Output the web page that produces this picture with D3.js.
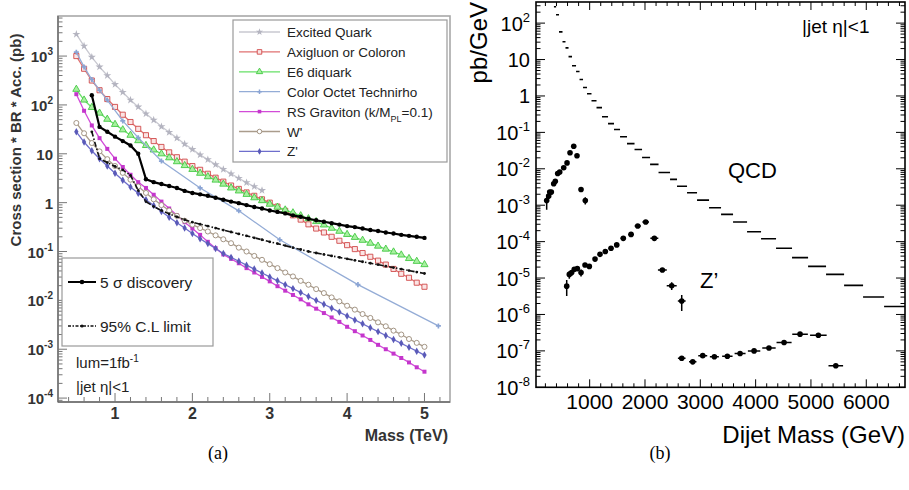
<!DOCTYPE html>
<html>
<head>
<meta charset="utf-8">
<script src="https://cdn.jsdelivr.net/npm/d3@7"></script>
<style>
body { margin: 0; background: #fff; }
svg { display: block; }
</style>
</head>
<body>
<div id="chart"></div>
<script>
// ---------- panel (a): cross section * BR * acceptance vs mass ----------
const massTeV = [0.5, 0.6, 0.7, 0.8, 0.9, 1.0, 1.1, 1.2, 1.3, 1.4, 1.5, 1.6, 1.7, 1.8, 1.9, 2.0,
    2.1, 2.2, 2.3, 2.4, 2.5, 2.6, 2.7, 2.8, 2.9, 3.0, 3.1, 3.2, 3.3, 3.4, 3.5, 3.6, 3.7, 3.8,
    3.9, 4.0, 4.1, 4.2, 4.3, 4.4, 4.5, 4.6, 4.7, 4.8, 4.9, 5.0];
const massQstarTeV = [0.5, 0.6, 0.7, 0.8, 0.9, 1.0, 1.1, 1.2, 1.3, 1.4, 1.5, 1.6, 1.7, 1.8, 1.9,
    2.0, 2.1, 2.2, 2.3, 2.4, 2.5, 2.6, 2.7, 2.8, 2.9];
const massLimitTeV = [0.7, 0.8, 0.9, 1.0, 1.1, 1.2, 1.3, 1.4, 1.5, 1.6, 1.7, 1.8, 1.9, 2.0, 2.1,
    2.2, 2.3, 2.4, 2.5, 2.6, 2.7, 2.8, 2.9, 3.0, 3.1, 3.2, 3.3, 3.4, 3.5, 3.6, 3.7, 3.8, 3.9,
    4.0, 4.1, 4.2, 4.3, 4.4, 4.5, 4.6, 4.7, 4.8, 4.9, 5.0];
const massRhoTeV = [0.5, 0.6, 0.7, 0.8, 0.9, 1.1, 1.3, 1.6, 2.1, 2.6, 3.13, 4.14, 5.18];

const xsecQstar = [2800, 1600, 950, 600, 400, 263, 182, 126, 91, 66, 49, 36, 27.5, 21, 15.8,
    12.3, 9.5, 7.6, 6.0, 4.8, 3.9, 3.16, 2.57, 2.14, 1.78];
const xsecAxigluon = [1000, 550, 316, 200, 132, 91, 63, 44.7, 32.4, 24.0, 18.2, 13.8, 10.7, 8.5,
    6.9, 5.6, 4.7, 3.9, 3.24, 2.69, 2.24, 1.91, 1.62, 1.38, 1.17, 1.0, 0.83, 0.68, 0.55, 0.45,
    0.36, 0.295, 0.245, 0.20, 0.166, 0.135, 0.112, 0.093, 0.078, 0.065, 0.054, 0.044, 0.035,
    0.029, 0.023, 0.019];
const xsecDiquark = [209, 126, 89, 68, 51, 40, 31, 24, 18.6, 14.8, 12.0, 10.0, 8.3, 6.9, 5.75,
    4.8, 4.0, 3.4, 2.9, 2.4, 2.0, 1.74, 1.48, 1.26, 1.1, 0.93, 0.81, 0.71, 0.62, 0.54, 0.47,
    0.41, 0.35, 0.30, 0.26, 0.224, 0.195, 0.17, 0.148, 0.129, 0.112, 0.098, 0.085, 0.072,
    0.063, 0.054];
const xsecTechnirho = [1200, 600, 331, 200, 126, 47, 21.4, 7.1, 2.0, 0.68, 0.174, 0.021, 0.003];
const xsecGraviton = [166, 75.9, 38, 20.9, 12.6, 7.94, 5.37, 3.72, 2.63, 2.0, 1.45, 1.05, 0.759,
    0.55, 0.398, 0.295, 0.219, 0.158, 0.117, 0.0871, 0.0708, 0.0575, 0.0457, 0.0372, 0.0302,
    0.0245, 0.0195, 0.0158, 0.0129, 0.0105, 0.0083, 0.00676, 0.0055, 0.00447, 0.00363,
    0.00288, 0.00234, 0.00191, 0.00155, 0.00123, 0.001, 0.000813, 0.000661, 0.000537,
    0.000427, 0.000347];
const xsecWprime = [42.7, 26.3, 16.6, 11.2, 7.76, 5.62, 4.07, 2.95, 2.14, 1.58, 1.17, 0.891,
    0.692, 0.537, 0.427, 0.355, 0.302, 0.257, 0.214, 0.178, 0.148, 0.12, 0.1, 0.0813, 0.0676,
    0.055, 0.0457, 0.0372, 0.0309, 0.0251, 0.0209, 0.017, 0.0141, 0.0115, 0.00955, 0.00776,
    0.00646, 0.00525, 0.00437, 0.00355, 0.00295, 0.0024, 0.002, 0.00162, 0.00135, 0.00112];
const xsecZprime = [28.2, 17.4, 11.5, 7.94, 5.62, 3.98, 2.88, 2.09, 1.55, 1.15, 0.871, 0.661,
    0.501, 0.389, 0.302, 0.234, 0.182, 0.145, 0.115, 0.0912, 0.0759, 0.0631, 0.0525, 0.0437,
    0.0363, 0.0302, 0.0251, 0.0209, 0.0174, 0.0145, 0.012, 0.01, 0.00832, 0.00692, 0.00575,
    0.00479, 0.00398, 0.00331, 0.00275, 0.00229, 0.00191, 0.00158, 0.00132, 0.0011,
    0.000912, 0.000759];
const xsecDiscovery = [158, 35.5, 28.2, 22.4, 18.2, 14.8, 10.0, 3.02, 2.63, 2.4, 2.19, 2.0,
    1.74, 1.58, 1.48, 1.38, 1.26, 1.15, 1.05, 0.977, 0.891, 0.813, 0.759, 0.692, 0.646, 0.603,
    0.55, 0.513, 0.468, 0.437, 0.407, 0.38, 0.355, 0.331, 0.316, 0.295, 0.275, 0.263, 0.245,
    0.234, 0.219, 0.209, 0.2, 0.19];
const xsecLimit95 = [28.2, 7.94, 6.61, 5.5, 4.68, 3.63, 1.78, 1.05, 0.832, 0.692, 0.589, 0.513,
    0.447, 0.398, 0.363, 0.331, 0.302, 0.275, 0.251, 0.229, 0.209, 0.191, 0.174, 0.158, 0.145,
    0.132, 0.120, 0.110, 0.100, 0.0933, 0.0871, 0.0813, 0.0759, 0.0708, 0.0661, 0.0617,
    0.0575, 0.0537, 0.0501, 0.0468, 0.0437, 0.0407, 0.038, 0.0355];

const signalNames = ["Excited Quark", "Axigluon or Coloron", "E6 diquark",
    "Color Octet Technirho", "RS Graviton (k/M", "W'", "Z'"];
const xTicksA = [1, 2, 3, 4, 5];

// ---------- panel (b): dijet mass spectrum ----------
const qcdEdgesGeV = [356, 392, 446, 509, 563, 618, 681, 754, 817, 880, 952, 1033, 1124, 1223,
    1332, 1440, 1549, 1675, 1811, 1947, 2092, 2245, 2453, 2579, 2760, 2941, 3158, 3375, 3592,
    3845, 4098, 4369, 4658, 4948, 5273, 5599, 5942, 6322, 6702];
const qcdXsec = [282, 170, 57.5, 30.9, 20.9, 12.0, 6.76, 4.68, 2.82, 1.70, 1.15, 0.741, 0.479,
    0.269, 0.174, 0.120, 0.0759, 0.049, 0.0339, 0.0204, 0.0132, 0.00794, 0.00513, 0.00331,
    0.00219, 0.00138, 0.000851, 0.000562, 0.000347, 0.000186, 0.00012, 6.61e-5, 3.63e-5,
    2.09e-5, 1.26e-5, 6.31e-6, 3.02e-6, 1.66e-6];

const zpMassGeV = [223, 260, 278, 307, 350, 379, 422, 459, 531, 591, 645, 712, 771, 844, 921,
    585, 632, 675, 722, 777, 844, 916, 994, 1097, 1187, 1283, 1386, 1489, 1608, 1748, 1869,
    2013, 2169, 2314, 2483, 2664,
    2664, 2863, 3044, 3254, 3489, 3719, 3972, 4241, 4514, 4803, 5134, 5449];
const zpXsec = [1.35e-3, 1.78e-3, 2.29e-3, 2.29e-3, 3.89e-3, 4.57e-3, 7.41e-3, 8.13e-3,
    1.07e-2, 1.45e-2, 2.75e-2, 4.17e-2, 2.29e-2, 2.69e-3, 1.35e-3,
    6.0e-6, 1.26e-5, 1.41e-5, 1.74e-5, 1.82e-5, 1.41e-5, 2.29e-5, 2.09e-5, 3.31e-5, 4.47e-5,
    5.37e-5, 6.61e-5, 8.13e-5, 1.23e-4, 1.58e-4, 2.69e-4, 3.47e-4, 1.23e-4, 1.66e-5, 6.17e-6,
    2.34e-6,
    6.3e-8, 5.0e-8, 7.4e-8, 6.9e-8, 7.1e-8, 8.5e-8, 1.0e-7, 1.2e-7, 1.7e-7, 2.88e-7, 2.69e-7,
    3.89e-8];
const zpMassErr = [7, 8, 8, 9, 10, 11, 13, 14, 16, 18, 19, 21, 23, 25, 28,
    18, 19, 20, 22, 23, 25, 27, 30, 33, 36, 39, 42, 45, 48, 52, 56, 60, 72, 80, 90, 70,
    69, 67, 81, 81, 94, 99, 112, 121, 136, 141, 150, 132];
const zpXsecErr = [6e-4, 3e-4, 3e-4, 2.5e-4, 3e-4, 3e-4, 4e-4, 4e-4, 5e-4, 6e-4, 1e-3, 1.2e-3,
    8e-4, 4e-4, 3e-4,
    2.8e-6, 3e-6, 2.5e-6, 2.5e-6, 2.5e-6, 3e-6, 2.5e-6, 2.5e-6, 3e-6, 3e-6, 3e-6, 3e-6, 4e-6,
    6e-6, 7e-6, 1e-5, 1.2e-5, 6e-6, 2e-6, 1.5e-6, 1.1e-6,
    3e-9, 3e-9, 4e-9, 4e-9, 4e-9, 4e-9, 5e-9, 6e-9, 8e-9, 1.2e-8, 1.2e-8, 3e-9];
const xTicksB = [1000, 2000, 3000, 4000, 5000, 6000];

// ---------- setup ----------
const width = 909;
const height = 490;
const FONT = "Arial, 'Liberation Sans', Helvetica, sans-serif";

const svg = d3.select("#chart")
    .append("svg")
    .attr("width", width)
    .attr("height", height)
    .style("font-family", FONT);

const isDecade = v => Math.abs(Math.log10(v) - Math.round(Math.log10(v))) < 1e-6;

function powerLabel(text, k, supSize, supShift) {
    if (k === 0) { text.text("1"); return; }
    if (k === 1) { text.text("10"); return; }
    text.append("tspan").text("10");
    text.append("tspan").attr("dy", -supShift).attr("font-size", supSize).text(k);
}

// ================= panel (a) =================
const xA = d3.scaleLinear().domain([0.263, 5.33]).range([58, 450]);
const yA = d3.scaleLog().domain([Math.pow(10, -4.08), Math.pow(10, 3.82)]).range([402, 16]);

const gA = svg.append("g");
svg.append("clipPath").attr("id", "clipA").append("rect")
    .attr("x", 58).attr("y", 16).attr("width", 392).attr("height", 386);

gA.append("rect")
    .attr("x", 58).attr("y", 16).attr("width", 392).attr("height", 386)
    .attr("fill", "none").attr("stroke", "#a8a8a8").attr("stroke-width", 1.6);
gA.append("line").attr("x1", 58).attr("x2", 58).attr("y1", 16).attr("y2", 402)
    .attr("stroke", "#6a6a6a").attr("stroke-width", 1.4);
gA.append("line").attr("x1", 58).attr("x2", 450).attr("y1", 402).attr("y2", 402)
    .attr("stroke", "#6a6a6a").attr("stroke-width", 1.4);

yA.ticks().forEach(v => {
    const major = isDecade(v);
    gA.append("line")
        .attr("x1", 58).attr("x2", 58 + (major ? 9 : 4.5))
        .attr("y1", yA(v)).attr("y2", yA(v))
        .attr("stroke", "#777").attr("stroke-width", 1);
    if (major) {
        const t = gA.append("text")
            .attr("x", 53).attr("y", yA(v) + 6)
            .attr("text-anchor", "end")
            .attr("font-size", 15).attr("font-weight", "bold").attr("fill", "#333");
        powerLabel(t, Math.round(Math.log10(v)), 10, 7);
    }
});

xA.ticks(25).forEach(v => {
    const major = Math.abs(v - Math.round(v)) < 1e-6;
    gA.append("line")
        .attr("x1", xA(v)).attr("x2", xA(v))
        .attr("y1", 402).attr("y2", 402 - (major ? 9 : 5))
        .attr("stroke", "#777").attr("stroke-width", 1);
});
xTicksA.forEach(v => {
    gA.append("text")
        .attr("x", xA(v)).attr("y", 419)
        .attr("text-anchor", "middle")
        .attr("font-size", 16).attr("font-weight", "bold").attr("fill", "#333")
        .text(v);
});

gA.append("text")
    .attr("x", 448).attr("y", 441)
    .attr("text-anchor", "end")
    .attr("font-size", 16).attr("font-weight", "bold").attr("fill", "#333")
    .text("Mass (TeV)");

gA.append("text")
    .attr("transform", "translate(21,140) rotate(-90)")
    .attr("text-anchor", "middle")
    .attr("font-size", 15).attr("font-weight", "bold").attr("fill", "#333")
    .text("Cross section * BR * Acc. (pb)");

const signals = [
    { mass: massQstarTeV, xsec: xsecQstar, line: "#c8c8d0", sym: d3.symbolStar, size: 20, fill: "#b4b4c0", stroke: "none" },
    { mass: massTeV, xsec: xsecAxigluon, line: "#e07070", sym: d3.symbolSquare, size: 26, fill: "#fbe4e4", stroke: "#d04a4a" },
    { mass: massTeV, xsec: xsecDiquark, line: "#66e066", sym: d3.symbolTriangle, size: 22, fill: "#a8f0a0", stroke: "#44c844" },
    { mass: massRhoTeV, xsec: xsecTechnirho, line: "#94acd6", sym: d3.symbolCross, size: 14, fill: "#8aa4d4", stroke: "none" },
    { mass: massTeV, xsec: xsecGraviton, line: "#d24cd8", sym: d3.symbolSquare, size: 16, fill: "#c436cc", stroke: "none" },
    { mass: massTeV, xsec: xsecWprime, line: "#aa9c8c", sym: d3.symbolCircle, size: 20, fill: "#fff", stroke: "#9a8a78" },
    { mass: massTeV, xsec: xsecZprime, line: "#6e6ecc", sym: d3.symbolDiamond, size: 16, fill: "#5a5ab8", stroke: "none" }
];

const plotA = gA.append("g").attr("clip-path", "url(#clipA)");
const lineA = d3.line().x(d => xA(d[0])).y(d => yA(d[1]));

signals.forEach(s => {
    const pts = s.mass.map((m, i) => [m, s.xsec[i]]);
    plotA.append("path")
        .attr("d", lineA(pts))
        .attr("fill", "none").attr("stroke", s.line).attr("stroke-width", 1.3);
    plotA.selectAll(null)
        .data(pts)
        .join("path")
        .attr("transform", d => `translate(${xA(d[0])},${yA(d[1])})`)
        .attr("d", d3.symbol(s.sym, s.size))
        .attr("fill", s.fill).attr("stroke", s.stroke).attr("stroke-width", 0.9);
});

// limit curves
const limPts = massLimitTeV.map((m, i) => [m, xsecLimit95[i]]);
plotA.append("path")
    .attr("d", lineA(limPts))
    .attr("fill", "none").attr("stroke", "#111").attr("stroke-width", 1.6)
    .attr("stroke-dasharray", "5,2,1.5,2");
plotA.selectAll(null).data(limPts).join("circle")
    .attr("cx", d => xA(d[0])).attr("cy", d => yA(d[1])).attr("r", 1.4).attr("fill", "#111");

const discPts = massLimitTeV.map((m, i) => [m, xsecDiscovery[i]]);
plotA.append("path")
    .attr("d", lineA(discPts))
    .attr("fill", "none").attr("stroke", "#000").attr("stroke-width", 2.2);
plotA.selectAll(null).data(discPts).join("circle")
    .attr("cx", d => xA(d[0])).attr("cy", d => yA(d[1])).attr("r", 2.2).attr("fill", "#000");

// signal legend
const legA = gA.append("g");
legA.append("rect")
    .attr("x", 233).attr("y", 20).attr("width", 214).attr("height", 142)
    .attr("fill", "#fff").attr("stroke", "#9a9a9a").attr("stroke-width", 1.2);
signals.forEach((s, i) => {
    const y = 32 + i * 19.9;
    legA.append("line").attr("x1", 239).attr("x2", 280).attr("y1", y).attr("y2", y)
        .attr("stroke", s.line).attr("stroke-width", 1.3);
    legA.append("path")
        .attr("transform", `translate(259.5,${y})`)
        .attr("d", d3.symbol(s.sym, s.size * 0.8))
        .attr("fill", s.fill).attr("stroke", s.stroke).attr("stroke-width", 0.9);
    const t = legA.append("text")
        .attr("x", 287).attr("y", y + 5)
        .attr("font-size", 13.5).attr("fill", "#222")
        .text(signalNames[i]);
    if (i === 4) {
        t.append("tspan").attr("dy", 5).attr("font-size", 9).text("PL");
        t.append("tspan").attr("dy", -5).text("=0.1)");
    }
});

// limit legend
const legL = gA.append("g");
legL.append("rect")
    .attr("x", 62).attr("y", 258).attr("width", 151).attr("height", 88)
    .attr("fill", "#fff").attr("stroke", "#9a9a9a").attr("stroke-width", 1.2);
legL.append("line").attr("x1", 68).attr("x2", 96).attr("y1", 282).attr("y2", 282)
    .attr("stroke", "#000").attr("stroke-width", 2);
legL.append("circle").attr("cx", 82).attr("cy", 282).attr("r", 2.3).attr("fill", "#000");
legL.append("text").attr("x", 100).attr("y", 288)
    .attr("font-size", 15.5).attr("fill", "#222").text("5 σ discovery");
legL.append("line").attr("x1", 68).attr("x2", 96).attr("y1", 326).attr("y2", 326)
    .attr("stroke", "#111").attr("stroke-width", 1.6).attr("stroke-dasharray", "3,1.5,1.5,1.5");
legL.append("circle").attr("cx", 82).attr("cy", 326).attr("r", 1.6).attr("fill", "#111");
legL.append("text").attr("x", 100).attr("y", 332)
    .attr("font-size", 15.5).attr("fill", "#222").text("95% C.L limit");

const lum = gA.append("text").attr("x", 76).attr("y", 368)
    .attr("font-size", 15).attr("fill", "#222");
lum.append("tspan").text("lum=1fb");
lum.append("tspan").attr("dy", -6).attr("font-size", 10).text("-1");
gA.append("text").attr("x", 76).attr("y", 392)
    .attr("font-size", 15).attr("fill", "#222").text("|jet η|<1");

// ================= panel (b) =================
const xB = d3.scaleLinear().domain([30, 6700]).range([536, 905]);
const yB = d3.scaleLog().domain([1e-8, Math.pow(10, 2.58)]).range([387.3, 2]);

const gB = svg.append("g");
svg.append("clipPath").attr("id", "clipB").append("rect")
    .attr("x", 536).attr("y", 2).attr("width", 369).attr("height", 385.3);

d3.range(200, 6700, 200).forEach(v => {
    const major = v % 1000 === 0;
    const len = major ? 8 : 4;
    gB.append("line").attr("x1", xB(v)).attr("x2", xB(v))
        .attr("y1", 387.3).attr("y2", 387.3 - len).attr("stroke", "#000").attr("stroke-width", 1);
    gB.append("line").attr("x1", xB(v)).attr("x2", xB(v))
        .attr("y1", 2).attr("y2", 2 + len).attr("stroke", "#000").attr("stroke-width", 1);
});
xTicksB.forEach(v => {
    gB.append("text")
        .attr("x", xB(v)).attr("y", 408.5)
        .attr("text-anchor", "middle").attr("font-size", 21).attr("fill", "#000")
        .text(v);
});

yB.ticks(30).forEach(v => {
    const major = isDecade(v);
    const len = major ? 9 : 4.5;
    gB.append("line").attr("x1", 536).attr("x2", 536 + len)
        .attr("y1", yB(v)).attr("y2", yB(v)).attr("stroke", "#000").attr("stroke-width", 1);
    gB.append("line").attr("x1", 905).attr("x2", 905 - len)
        .attr("y1", yB(v)).attr("y2", yB(v)).attr("stroke", "#000").attr("stroke-width", 1);
    if (major) {
        const t = gB.append("text")
            .attr("x", 530).attr("y", yB(v) + 7.5)
            .attr("text-anchor", "end").attr("font-size", 20).attr("fill", "#000");
        powerLabel(t, Math.round(Math.log10(v)), 13, 9);
    }
});

gB.append("rect")
    .attr("x", 536).attr("y", 2).attr("width", 369).attr("height", 385.3)
    .attr("fill", "none").attr("stroke", "#000").attr("stroke-width", 1.6);

gB.append("text")
    .attr("transform", "translate(487,2) rotate(-90)")
    .attr("text-anchor", "end").attr("font-size", 24).attr("fill", "#000")
    .text("pb/GeV");
gB.append("text")
    .attr("x", 905).attr("y", 443)
    .attr("text-anchor", "end").attr("font-size", 24).attr("fill", "#000")
    .text("Dijet Mass (GeV)");
gB.append("text").attr("x", 802).attr("y", 33)
    .attr("font-size", 19).attr("fill", "#000").text("|jet η|<1");
gB.append("text").attr("x", 728).attr("y", 178)
    .attr("font-size", 22).attr("fill", "#000").text("QCD");
gB.append("text").attr("x", 700).attr("y", 288)
    .attr("font-size", 22).attr("fill", "#000").text("Z’");

const plotB = gB.append("g").attr("clip-path", "url(#clipB)");

// QCD bins
qcdXsec.forEach((v, i) => {
    const x0 = xB(qcdEdgesGeV[i]);
    const x1 = xB(qcdEdgesGeV[i + 1]);
    const mid = (x0 + x1) / 2;
    const half = Math.max(1.1, (x1 - x0) / 2);
    plotB.append("line")
        .attr("x1", mid - half).attr("x2", mid + half)
        .attr("y1", yB(v)).attr("y2", yB(v))
        .attr("stroke", "#000").attr("stroke-width", 1.6);
});

// Z' signal points
zpMassGeV.forEach((m, i) => {
    const cx = xB(m);
    const cy = yB(zpXsec[i]);
    plotB.append("line")
        .attr("x1", xB(m - zpMassErr[i])).attr("x2", xB(m + zpMassErr[i]))
        .attr("y1", cy).attr("y2", cy)
        .attr("stroke", "#000").attr("stroke-width", 1.5);
    plotB.append("line")
        .attr("x1", cx).attr("x2", cx)
        .attr("y1", yB(zpXsec[i] + zpXsecErr[i]))
        .attr("y2", yB(Math.max(zpXsec[i] - zpXsecErr[i], 1e-9)))
        .attr("stroke", "#000").attr("stroke-width", 1.5);
    plotB.append("circle")
        .attr("cx", cx).attr("cy", cy).attr("r", 2.8).attr("fill", "#000");
});

// captions
svg.append("text").attr("x", 218).attr("y", 459)
    .attr("text-anchor", "middle").attr("font-family", "'Liberation Serif', 'DejaVu Serif', serif")
    .attr("font-size", 18).attr("fill", "#000").text("(a)");
svg.append("text").attr("x", 660).attr("y", 459)
    .attr("text-anchor", "middle").attr("font-family", "'Liberation Serif', 'DejaVu Serif', serif")
    .attr("font-size", 18).attr("fill", "#000").text("(b)");
</script>
</body>
</html>
